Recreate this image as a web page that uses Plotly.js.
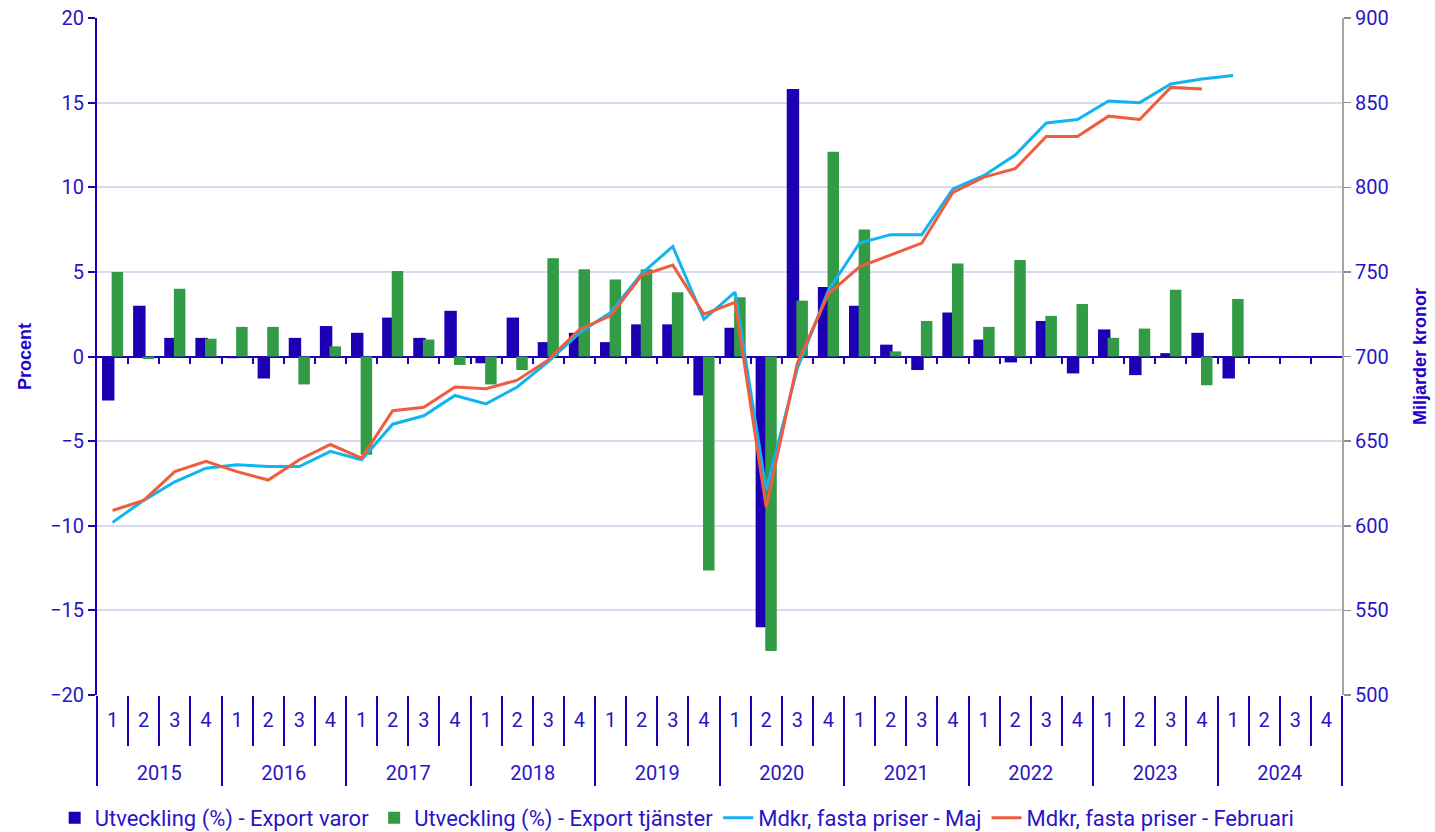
<!DOCTYPE html>
<html>
<head>
<meta charset="utf-8">
<script src="https://cdn.plot.ly/plotly-3.0.1.min.js"></script>
<style>
html,body{margin:0;padding:0;background:#fff;}
#chart{width:1435px;height:832px;}
</style>
</head>
<body>
<div id="chart"></div>
<script>
const years = ["2015","2016","2017","2018","2019","2020","2021","2022","2023","2024"];
const quarters = ["1","2","3","4"];

// Utveckling (%) - Export varor
const exportVaror = [
  -2.6, 3.0, 1.1, 1.1,
  -0.1, -1.3, 1.1, 1.8,
  1.4, 2.3, 1.1, 2.7,
  -0.4, 2.3, 0.85, 1.4,
  0.85, 1.9, 1.9, -2.3,
  1.7, -16.0, 15.8, 4.1,
  3.0, 0.7, -0.8, 2.6,
  1.0, -0.35, 2.1, -1.0,
  1.6, -1.1, 0.2, 1.4,
  -1.3, null, null, null
];
// Utveckling (%) - Export tjänster
const exportTjanster = [
  5.0, -0.15, 4.0, 1.05,
  1.75, 1.75, -1.65, 0.6,
  -5.8, 5.05, 1.0, -0.5,
  -1.65, -0.8, 5.8, 5.15,
  4.55, 5.15, 3.8, -12.65,
  3.5, -17.4, 3.3, 12.1,
  7.5, 0.3, 2.1, 5.5,
  1.75, 5.7, 2.4, 3.1,
  1.1, 1.65, 3.95, -1.7,
  3.4, null, null, null
];
// Mdkr, fasta priser - Maj
const mdkrMaj = [
  602, 615, 626, 634,
  636, 635, 635, 644,
  639, 660, 665, 677,
  672, 682, 697, 714,
  726, 749, 765, 722,
  738, 621, 693, 739,
  767, 772, 772, 799,
  807, 819, 838, 840,
  851, 850, 861, 864,
  866, null, null, null
];
// Mdkr, fasta priser - Februari
const mdkrFeb = [
  609, 615, 632, 638,
  632, 627, 639, 648,
  640, 668, 670, 682,
  681, 686, 698, 716,
  724, 748, 754, 725,
  732, 611, 696, 737,
  753, 760, 767, 797,
  806, 811, 830, 830,
  842, 840, 859, 858,
  null, null, null, null
];

const yTicks = [-20, -15, -10, -5, 0, 5, 10, 15, 20];
const y2Ticks = [500, 550, 600, 650, 700, 750, 800, 850, 900];

// category keys and labels derived from the arrays above
const xKeys = [], xQuarterText = [];
years.forEach(y => quarters.forEach(q => { xKeys.push(y + '-' + q); xQuarterText.push(q); }));
const nCat = xKeys.length;
const nQ = quarters.length;
const quarterBoundaries = [], yearBoundaries = [], yearCenters = [];
for (let i = 1; i < nCat; i++) if (i % nQ !== 0) quarterBoundaries.push(i - 0.5);
for (let k = 0; k <= years.length; k++) yearBoundaries.push(k * nQ - 0.5);
for (let k = 0; k < years.length; k++) yearCenters.push(k * nQ + (nQ - 1) / 2);
const zeroTicks = [];
for (let i = 1; i < nCat; i++) zeroTicks.push(i - 0.5);

const BLUE_TXT = '#2a14c8';
const BAR_BLUE = '#1e00b4';
const BAR_GREEN = '#339a45';
const CYAN = '#12b4ef';
const RED = '#ef5c3e';
const GRID = '#d9d9f0';
const CLEAR = 'rgba(0,0,0,0)';
const xr = [-0.5, nCat - 0.5];

const traces = [
  {type:'bar', name:'Utveckling (%) - Export varor', x:xKeys, y:exportVaror,
   marker:{color:BAR_BLUE}, width:0.4, offset:-0.34, xaxis:'x', yaxis:'y'},
  {type:'bar', name:'Utveckling (%) - Export tjänster', x:xKeys, y:exportTjanster,
   marker:{color:BAR_GREEN}, width:0.37, offset:-0.03, xaxis:'x', yaxis:'y'},
  {type:'scatter', mode:'lines', name:'Mdkr, fasta priser - Maj', x:xKeys, y:mdkrMaj,
   line:{color:CYAN, width:3}, xaxis:'x', yaxis:'y2'},
  {type:'scatter', mode:'lines', name:'Mdkr, fasta priser - Februari', x:xKeys, y:mdkrFeb,
   line:{color:RED, width:3}, xaxis:'x', yaxis:'y2'}
];
// empty helper traces so the tick-only helper axes get drawn
['x2','x3','x4','x5'].forEach(ax => traces.push({
  type:'scatter', mode:'lines', x:xr, y:[null, null], xaxis:ax, yaxis:'y',
  showlegend:false, hoverinfo:'skip', line:{color:CLEAR}
}));

const tickFont = {family:'Roboto, sans-serif', size:20, color:BLUE_TXT};
const helperAxis = (extra) => Object.assign({
  type:'linear', overlaying:'x', anchor:'free', position:0, range:xr,
  showgrid:false, zeroline:false, showline:false, showticklabels:false,
  ticks:'outside', tickwidth:2, tickcolor:BAR_BLUE, fixedrange:true
}, extra);

const layout = {
  width:1435, height:832,
  margin:{l:97, r:93, t:18, b:137, autoexpand:false},
  paper_bgcolor:'#ffffff', plot_bgcolor:'#ffffff',
  barmode:'overlay',
  showlegend:true,
  legend:{orientation:'h', x:-0.034, xanchor:'left', y:-0.1817, yanchor:'middle',
          font:{family:'Roboto, sans-serif', size:22, color:BLUE_TXT},
          traceorder:'normal'},
  xaxis:{type:'category', range:xr, tickvals:xKeys, ticktext:xQuarterText,
         tickfont:tickFont, showgrid:false, zeroline:false, showline:false,
         ticks:'outside', ticklen:7, tickcolor:CLEAR},
  xaxis2:helperAxis({position:0.5, tickvals:zeroTicks, ticklen:6}),
  xaxis3:helperAxis({tickvals:quarterBoundaries, ticklen:50}),
  xaxis4:helperAxis({tickvals:yearBoundaries, ticklen:90}),
  xaxis5:helperAxis({tickvals:yearCenters, ticktext:years, showticklabels:true,
                     tickfont:tickFont, ticklen:60, tickcolor:CLEAR}),
  yaxis:{range:[-20, 20], tickvals:yTicks, tickfont:tickFont,
         showgrid:true, gridcolor:GRID, gridwidth:2,
         zeroline:true, zerolinecolor:BAR_BLUE, zerolinewidth:2,
         showline:true, linecolor:BAR_BLUE, linewidth:2,
         ticks:'outside', ticklen:7, tickwidth:2, tickcolor:BAR_BLUE,
         title:{text:'Procent', font:{family:'Liberation Sans, Arial, sans-serif', size:18, color:'#2200cc', weight:'bold'}, standoff:14}},
  yaxis2:{range:[500, 900], tickvals:y2Ticks, tickfont:tickFont, overlaying:'y', side:'right', anchor:'x',
          showgrid:false, zeroline:false,
          showline:true, linecolor:'#a6a6a6', linewidth:2,
          ticks:'outside', ticklen:7, tickwidth:1.5, tickcolor:'#8c8c8c',
          title:{text:'Miljarder kronor', font:{family:'Liberation Sans, Arial, sans-serif', size:18, color:'#2200cc', weight:'bold'}, standoff:26}}
};

Plotly.newPlot('chart', traces, layout, {displayModeBar:false, staticPlot:true});
</script>
</body>
</html>
